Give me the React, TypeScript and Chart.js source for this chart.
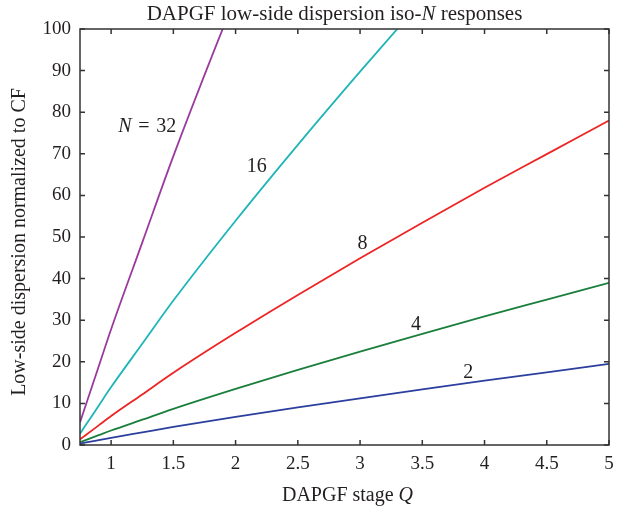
import React, { useEffect, useRef } from 'react';
import { Chart, registerables } from 'chart.js';

Chart.register(...registerables);

// Filter stage Q (x values)
const stageQ = [0.75, 0.8, 0.9, 1, 1.25, 1.5, 2, 2.5, 3, 3.5, 4, 4.5, 5];

// Low-side dispersion normalized to CF, one array per N
const dispN2 = [0.34, 0.62, 1.18, 1.74, 3.04, 4.34, 6.74, 9.02, 11.22, 13.36, 15.46, 17.48, 19.5];
const dispN4 = [0.68, 1.24, 2.36, 3.48, 6.08, 8.68, 13.48, 18.04, 22.44, 26.72, 30.92, 34.96, 39];
const dispN8 = [1.36, 2.48, 4.72, 6.96, 12.16, 17.36, 26.96, 36.08, 44.88, 53.44, 61.84, 69.92, 78];
const dispN16 = [2.72, 4.96, 9.44, 13.92, 24.32, 34.72, 53.92, 72.16, 89.76, 106.9, 123.7, 139.8, 156];
const dispN32 = [5.44, 9.92, 18.88, 27.84, 48.64, 69.44, 107.8, 144.3, 179.5, 213.8, 247.4, 279.7, 312];

const seriesNames = ['2', '4', '8', '16', '32'];
const seriesColors = ['#2b3f9e', '#1a7f3c', '#ee2424', '#1fb5b8', '#9a3a9e'];

// Tick values
const xTicks = [1, 1.5, 2, 2.5, 3, 3.5, 4, 4.5, 5];
const yTicks = [0, 10, 20, 30, 40, 50, 60, 70, 80, 90, 100];

// In-plot curve labels (data coordinates)
const curveLabelItalic = ['', '', '', '', 'N'];
const curveLabelText = ['2', '4', '8', '16', '\u2004=\u200432'];
const curveLabelQ = [3.87, 3.45, 3.02, 2.17, 1.29];
const curveLabelV = [17.3, 28.8, 48.3, 67, 76.4];

const TITLE_PLAIN = 'DAPGF low-side dispersion iso-';
const TITLE_ITALIC = 'N';
const TITLE_TAIL = ' responses';
const X_TITLE_PLAIN = 'DAPGF stage ';
const X_TITLE_ITALIC = 'Q';
const Y_TITLE = 'Low-side dispersion normalized to CF';

const FAMILY = '"Liberation Serif", "DejaVu Serif", serif';
const TEXT_COLOR = '#231f20';
const AXIS_COLOR = '#333333';

type Part = { t: string; it: boolean };

function drawParts(ctx: CanvasRenderingContext2D, parts: Part[], cx: number, cy: number, size: number) {
  let total = 0;
  const widths: number[] = [];
  for (const p of parts) {
    ctx.font = `${p.it ? 'italic ' : ''}${size}px ${FAMILY}`;
    const w = ctx.measureText(p.t).width;
    widths.push(w);
    total += w;
  }
  let x = cx - total / 2;
  ctx.textAlign = 'left';
  ctx.textBaseline = 'middle';
  parts.forEach((p, i) => {
    ctx.font = `${p.it ? 'italic ' : ''}${size}px ${FAMILY}`;
    ctx.fillText(p.t, x, cy);
    x += widths[i];
  });
}

const framePlugin = {
  id: 'frameAndText',
  afterDatasetsDraw(chart: any) {
    const { ctx, chartArea: a, scales } = chart;
    const xs = scales.x;
    const ys = scales.y;
    ctx.save();
    // box
    ctx.strokeStyle = AXIS_COLOR;
    ctx.lineWidth = 1.5;
    ctx.strokeRect(a.left, a.top, a.right - a.left, a.bottom - a.top);
    // inner ticks
    const tl = 5;
    ctx.beginPath();
    for (const v of xTicks) {
      const px = xs.getPixelForValue(v);
      ctx.moveTo(px, a.bottom);
      ctx.lineTo(px, a.bottom - tl);
      ctx.moveTo(px, a.top);
      ctx.lineTo(px, a.top + tl);
    }
    for (const v of yTicks) {
      const py = ys.getPixelForValue(v);
      ctx.moveTo(a.left, py);
      ctx.lineTo(a.left + tl, py);
      ctx.moveTo(a.right, py);
      ctx.lineTo(a.right - tl, py);
    }
    ctx.stroke();

    ctx.fillStyle = TEXT_COLOR;
    const cx = (a.left + a.right) / 2;
    // title
    drawParts(ctx, [
      { t: TITLE_PLAIN, it: false },
      { t: TITLE_ITALIC, it: true },
      { t: TITLE_TAIL, it: false },
    ], cx - 10, 14, 21);
    // x title
    drawParts(ctx, [
      { t: X_TITLE_PLAIN, it: false },
      { t: X_TITLE_ITALIC, it: true },
    ], cx + 3, 496, 20);
    // y title
    ctx.save();
    ctx.translate(20, (a.top + a.bottom) / 2 + 5);
    ctx.rotate(-Math.PI / 2);
    drawParts(ctx, [{ t: Y_TITLE, it: false }], 0, 0, 20);
    ctx.restore();
    // curve labels
    for (let i = 0; i < curveLabelText.length; i++) {
      const px = xs.getPixelForValue(curveLabelQ[i]);
      const py = ys.getPixelForValue(curveLabelV[i]);
      const parts: Part[] = [];
      if (curveLabelItalic[i]) parts.push({ t: curveLabelItalic[i], it: true });
      parts.push({ t: curveLabelText[i], it: false });
      drawParts(ctx, parts, px, py, 20);
    }
    ctx.restore();
  },
};

export default function App() {
  const ref = useRef<HTMLCanvasElement | null>(null);
  useEffect(() => {
    if (!ref.current) return;
    const datasets = [dispN2, dispN4, dispN8, dispN16, dispN32].map((vals, i) => ({
      label: 'N = ' + seriesNames[i],
      data: stageQ.map((q, j) => ({ x: q, y: vals[j] })),
      borderColor: seriesColors[i],
      backgroundColor: seriesColors[i],
      borderWidth: 1.8,
      pointRadius: 0,
      cubicInterpolationMode: 'monotone' as const,
      clip: 0,
    }));
    const chart = new Chart(ref.current, {
      type: 'line',
      data: { datasets },
      plugins: [framePlugin],
      options: {
        animation: false,
        responsive: false,
        devicePixelRatio: 1,
        layout: { padding: { left: 0, right: 24, top: 29, bottom: 0 } },
        plugins: { legend: { display: false }, tooltip: { enabled: false }, title: { display: false } },
        scales: {
          x: {
            type: 'linear',
            min: 0.75,
            max: 5,
            afterBuildTicks: (s: any) => { s.ticks = xTicks.map((v) => ({ value: v })); },
            afterFit: (s: any) => { s.height = 68; },
            grid: { display: false, drawTicks: false },
            border: { display: false },
            ticks: {
              padding: 8,
              color: TEXT_COLOR,
              font: { family: FAMILY, size: 19 },
              maxRotation: 0,
              autoSkip: false,
              callback: (v: any) => String(v),
            },
          },
          y: {
            type: 'linear',
            min: 0,
            max: 100,
            afterBuildTicks: (s: any) => { s.ticks = yTicks.map((v) => ({ value: v })); },
            afterFit: (s: any) => { s.width = 80; },
            grid: { display: false, drawTicks: false },
            border: { display: false },
            ticks: {
              padding: 9,
              color: TEXT_COLOR,
              font: { family: FAMILY, size: 19 },
              autoSkip: false,
              callback: (v: any) => String(v),
            },
          },
        },
      },
    });
    return () => chart.destroy();
  }, []);
  return (
    <div style={{ position: 'absolute', left: 0, top: 0, width: 633, height: 513, background: '#fff' }}>
      <canvas ref={ref} width={633} height={513} style={{ display: 'block', width: 633, height: 513 }} />
    </div>
  );
}
